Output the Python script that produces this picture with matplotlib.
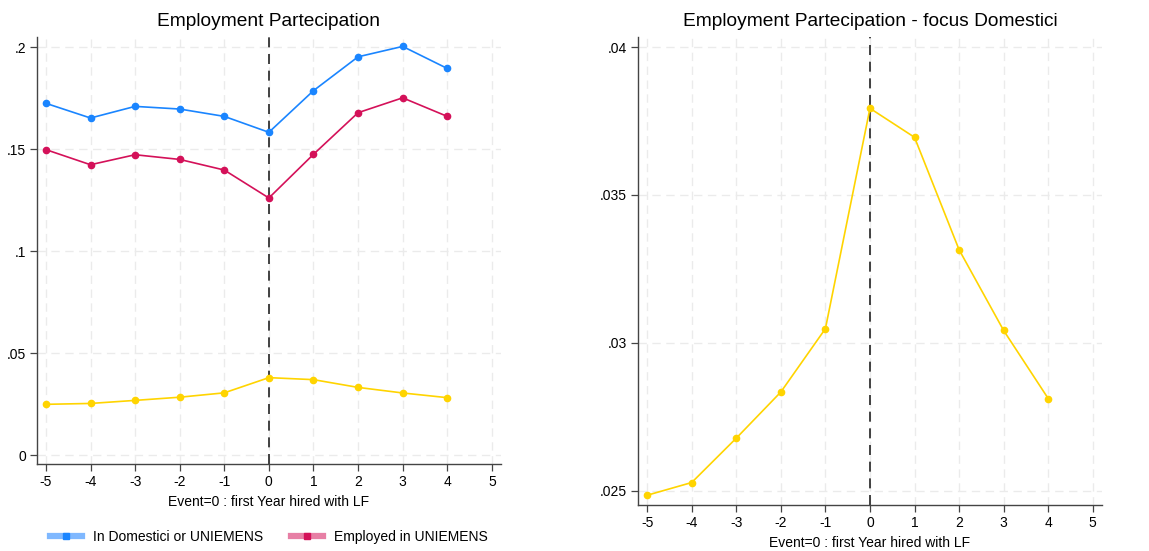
import matplotlib
matplotlib.use("Agg")
import matplotlib.pyplot as plt
from matplotlib.lines import Line2D

plt.rcParams['font.family'] = ['Liberation Sans', 'DejaVu Sans']

# event time relative to first year hired with LF
event = [-5, -4, -3, -2, -1, 0, 1, 2, 3, 4]
in_dom_or_uniemens = [0.1724, 0.1652, 0.1709, 0.1696, 0.1660, 0.1582, 0.1786, 0.1952, 0.2003, 0.1895]
employed_uniemens = [0.1497, 0.1423, 0.1472, 0.1449, 0.1397, 0.1260, 0.1474, 0.1678, 0.1751, 0.1660]
domestici = [0.02485, 0.02528, 0.02678, 0.02834, 0.03048, 0.03793, 0.03695, 0.03315, 0.03042, 0.02812]

xticks = [-5, -4, -3, -2, -1, 0, 1, 2, 3, 4, 5]
left_yticks = [0, 0.05, 0.1, 0.15, 0.2]
left_ylabels = ['0', '.05', '.1', '.15', '.2']
right_yticks = [0.025, 0.03, 0.035, 0.04]
right_ylabels = ['.025', '.03', '.035', '.04']

c_blue = '#1a85ff'
c_red = '#d41159'
c_yellow = '#ffd400'
xlab = 'Event=0 : first Year hired with LF'

fig = plt.figure(figsize=(11.49, 5.51), dpi=100)
ax1 = fig.add_axes([0.0322, 0.1579, 0.4036, 0.7749])
ax2 = fig.add_axes([0.5555, 0.0835, 0.4033, 0.8493])


def style(ax, yticks, ylabels):
    ax.set_xticks(xticks)
    ax.set_xticklabels([str(t) for t in xticks])
    ax.set_yticks(yticks)
    ax.set_yticklabels(ylabels)
    ax.set_xlim(-5.2, 5.2)
    ax.grid(True, color='#ebebeb', linestyle=(0, (6, 4)), lw=1.0)
    ax.set_axisbelow(True)
    for s in ['top', 'right']:
        ax.spines[s].set_visible(False)
    for s in ['left', 'bottom']:
        ax.spines[s].set_color('#444444')
        ax.spines[s].set_linewidth(1.0)
    ax.tick_params(direction='out', length=5, width=0.9, color='#444444',
                   labelsize=10, pad=3)
    ax.axvline(0, color='#222222', lw=1.2, linestyle=(0, (6, 4)), zorder=2)
    ax.set_xlabel(xlab, fontsize=10, labelpad=4)


# left panel: all three series
style(ax1, left_yticks, left_ylabels)
ax1.set_ylim(-0.0044, 0.2049)
ax1.plot(event, in_dom_or_uniemens, color=c_blue, lw=1.2, marker='o', ms=4.5, zorder=3)
ax1.plot(event, employed_uniemens, color=c_red, lw=1.2, marker='o', ms=4.5, zorder=3)
ax1.plot(event, domestici, color=c_yellow, lw=1.2, marker='o', ms=4.5, zorder=3)
ax1.set_title('Employment Partecipation', fontsize=13.8, pad=8)

handles = [
    Line2D([], [], color='#7fb8ff', lw=4.5, marker='s', ms=4, mfc=c_blue, mec=c_blue),
    Line2D([], [], color='#e77fa5', lw=4.5, marker='s', ms=4, mfc=c_red, mec=c_red),
]
ax1.legend(handles, ['In Domestici or UNIEMENS', 'Employed in UNIEMENS'],
           loc='upper center', bbox_to_anchor=(0.5, -0.125), ncol=2, frameon=False,
           fontsize=10, handlelength=2.3, handletextpad=0.8, columnspacing=2.0,
           numpoints=1)

# right panel: domestic workers only
style(ax2, right_yticks, right_ylabels)
ax2.set_ylim(0.02452, 0.04034)
ax2.plot(event, domestici, color=c_yellow, lw=1.2, marker='o', ms=4.5, zorder=3)
ax2.set_title('Employment Partecipation - focus Domestici', fontsize=13.8, pad=8)

fig.savefig('out.png', dpi=100, facecolor='white')
